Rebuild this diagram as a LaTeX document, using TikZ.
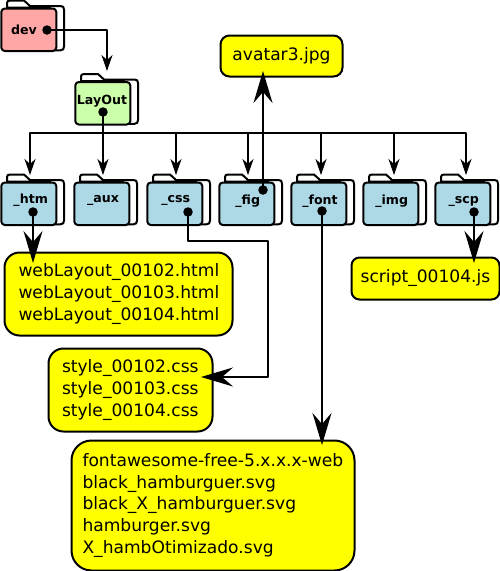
\documentclass[tikz,border=0pt]{standalone}
\usepackage{fontspec}
\setmainfont{DejaVu Sans}
\usetikzlibrary{arrows.meta}
\definecolor{fblue}{HTML}{ADD8E6}
\definecolor{fred}{HTML}{FFA7A7}
\definecolor{fgreen}{HTML}{CCFFAA}
\definecolor{byel}{HTML}{FFFF00}
\tikzset{
  x=1pt,y=-1pt,
  every path/.style={line join=round},
  fold/.style={draw=black,line width=2pt,fill=white},
  foldfront/.style={draw=black,line width=2pt,rounded corners=3.5pt,anchor=north west,inner sep=0pt,minimum width=55pt,minimum height=42.5pt},
  foldtext/.style={inner sep=0pt,font=\fontsize{12.6}{14}\selectfont\bfseries},
  dotn/.style={circle,fill=black,draw=none,inner sep=0pt,minimum size=9.5pt},
  conn/.style={draw=black,line width=1.9pt},
  small/.style={conn,-{Stealth[length=16pt,width=11pt,inset=5pt]}},
  big/.style={conn,-{Stealth[length=32pt,width=19pt,inset=11pt]}},
  filebox/.style={draw=black,line width=2pt,fill=byel,anchor=north west,inner ysep=0pt,align=left,font=\fontsize{17.1}{21.7}\selectfont},
}
\newcommand{\folderpic}[7]{% name, x, y, fill, label, label centre x, y
  \begin{scope}[shift={(#2,#3)}]
    \path[fold] (7,7) -- (7,2.5) .. controls (7,1) and (8,0) .. (10,0) -- (24,0) -- (30,5.5) -- (60.5,5.5) .. controls (63,5.5) and (64,6.5) .. (64,9) -- (64,46) .. controls (64,48.5) and (63,49.8) .. (60.5,49.8) -- (50,49.8) -- (50,7) -- cycle;
    \node[foldfront,fill=#4] (#1) at (0.3,7) {};
  \end{scope}
  \node[foldtext] (#1t) at (#6,#7) {#5};
}
\begin{document}
\begin{tikzpicture}
\useasboundingbox (0,0) rectangle (500,571);
% folders
\folderpic{dev}{0}{0.5}{fred}{dev}{24}{29.5}
\folderpic{layout}{74}{74}{fgreen}{LayOut}{102}{101.5}
\folderpic{htm}{0}{174.5}{fblue}{\_htm}{30.7}{200}
\folderpic{aux}{73}{174.5}{fblue}{\_aux}{103}{200}
\folderpic{css}{146}{174.5}{fblue}{\_css}{175.7}{200}
\folderpic{fig}{218}{174.5}{fblue}{\_fig}{247.7}{201}
\folderpic{font}{290}{174.5}{fblue}{\_font}{320}{201}
\folderpic{img}{362}{174.5}{fblue}{\_img}{391.7}{201}
\folderpic{scp}{434}{174.5}{fblue}{\_scp}{463.7}{201}
% files
\node[filebox,rounded corners=9pt,minimum width=122pt,minimum height=41pt,inner xsep=11pt,text width=100pt,align=center] (avatar) at (219.5,34.5) {avatar3.jpg};
\node[filebox,rounded corners=15pt,minimum height=83pt,inner xsep=14pt,text width=200pt] (html) at (3.5,251.5) {webLayout\_00102.html\\webLayout\_00103.html\\webLayout\_00104.html};
\node[filebox,rounded corners=15pt,minimum height=83pt,inner xsep=13.5pt,text width=137pt] (style) at (47.5,347.5) {style\_00102.css\\style\_00103.css\\style\_00104.css};
\node[filebox,rounded corners=20pt,minimum height=130pt,inner xsep=11pt,text width=261pt] (fonts) at (70.5,439.5) {fontawesome-free-5.x.x.x-web\\black\_hamburguer.svg\\black\_X\_hamburguer.svg\\hamburger.svg\\X\_hambOtimizado.svg};
\node[filebox,rounded corners=8pt,minimum width=148pt,minimum height=42pt,inner xsep=6pt,text width=136pt,align=center] (script) at (350.5,256.5) {script\_00104.js};
% dots
\node[dotn] (ddev) at (47,30) {};
\node[dotn] (dlay) at (103,112) {};
\node[dotn] (dhtm) at (33,212) {};
\node[dotn] (dcss) at (188,212) {};
\node[dotn] (dfig) at (263,190) {};
\node[dotn] (dfont) at (322,211) {};
\node[dotn] (dscp) at (474,212) {};
% connector ends
\coordinate (tlay) at (107,71);
\coordinate (bus) at (103,133);
\coordinate (thtm) at (30,175);
\coordinate (taux) at (103,175);
\coordinate (tcss) at (176,175);
\coordinate (tfig) at (248,175);
\coordinate (tfont) at (321,175);
\coordinate (timg) at (394,175);
\coordinate (tscp) at (466,175);
\coordinate (ahtm) at (33,263);
\coordinate (ascp) at (474,263);
\coordinate (aav) at (263,71);
\coordinate (afont) at (322,445);
\coordinate (acss) at (201,377);
\coordinate (c1) at (188,241);
\coordinate (c2) at (268,241);
\coordinate (c3) at (268,377);
% connectors
\draw[small] (ddev.center) -| (tlay);
\draw[conn] (dlay.center) -- (bus);
\draw[small] (bus) -| (thtm);
\draw[small] (bus) -- (taux);
\draw[small] (bus) -| (tcss);
\draw[small] (bus) -| (tfig);
\draw[small] (bus) -| (tfont);
\draw[small] (bus) -| (timg);
\draw[small] (bus) -| (tscp);
\draw[big] (dhtm.center) -- (ahtm);
\draw[big] (dscp.center) -- (ascp);
\draw[big] (dfig.center) -- (aav);
\draw[big] (dfont.center) -- (afont);
\draw[big] (dcss.center) -- (c1) -- (c2) -- (c3) -- (acss);
\end{tikzpicture}
\end{document}
